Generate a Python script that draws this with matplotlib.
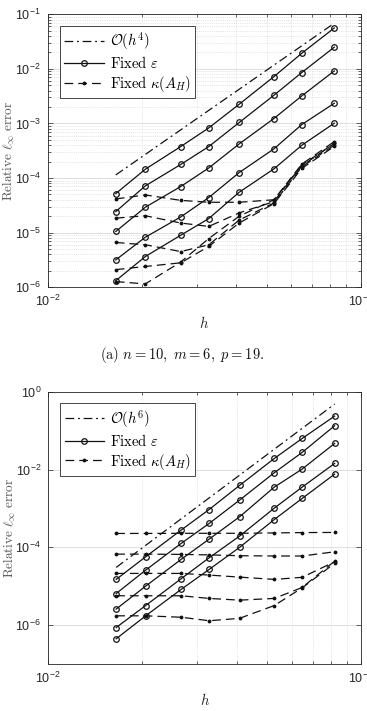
import matplotlib
matplotlib.use("Agg")
import matplotlib.pyplot as plt
from matplotlib.ticker import LogLocator, NullFormatter, NullLocator, LogFormatterMathtext

plt.rcParams['font.family'] = ['Liberation Sans', 'DejaVu Sans']
plt.rcParams['mathtext.fontset'] = 'cm'

# grid spacing h (same for both panels)
h = [0.0165, 0.0205, 0.0266, 0.0327, 0.0409, 0.0528, 0.0648, 0.0823]

# panel (a): n=10, m=6, p=19
eps_a = [
    [5.19e-5, 1.45e-4, 3.77e-4, 8.28e-4, 2.25e-3, 7.2e-3, 1.93e-2, 5.6e-2],
    [2.43e-5, 7.18e-5, 1.77e-4, 3.77e-4, 1.04e-3, 3.28e-3, 8.55e-3, 2.49e-2],
    [1.05e-5, 2.92e-5, 6.98e-5, 1.53e-4, 4.22e-4, 1.23e-3, 3.19e-3, 9.16e-3],
    [3.17e-6, 8.24e-6, 1.94e-5, 4.39e-5, 1.26e-4, 3.42e-4, 9.53e-4, 2.34e-3],
    [1.32e-6, 3.65e-6, 8.96e-6, 1.81e-5, 5.5e-5, 1.47e-4, 3.98e-4, 1.01e-3],
]
kap_a = [
    [4.14e-5, 4.9e-5, 3.9e-5, 3.6e-5, 3.6e-5, 4.0e-5, 1.8e-4, 4.65e-4],
    [1.84e-5, 2.04e-5, 1.5e-5, 1.3e-5, 2.3e-5, 3.7e-5, 1.73e-4, 4.3e-4],
    [6.6e-6, 6.0e-6, 4.5e-6, 6.0e-6, 1.7e-5, 3.5e-5, 1.6e-4, 4.0e-4],
    [2.1e-6, 2.4e-6, 2.8e-6, 5.6e-6, 1.5e-5, 3.4e-5, 1.5e-4, 3.8e-4],
    [1.27e-6, 1.15e-6, 2.9e-6, 7.8e-6, 2.0e-5, 4.0e-5, 1.67e-4, 4.3e-4],
]
ref_h = [0.0165, 0.0823]
ref_a = [1.14e-4, 6.84e-2]

# panel (b)
eps_b = [
    [1.5e-5, 5.73e-5, 2.78e-4, 9.4e-4, 3.91e-3, 1.93e-2, 6.3e-2, 0.237],
    [6.5e-6, 2.6e-5, 1.26e-4, 4.12e-4, 1.64e-3, 8.3e-3, 2.76e-2, 0.134],
    [2.59e-6, 1.01e-5, 4.9e-5, 1.63e-4, 6.1e-4, 3.54e-3, 1.03e-2, 4.7e-2],
    [8.7e-7, 3.2e-6, 1.56e-5, 5.4e-5, 1.95e-4, 1.02e-3, 3.54e-3, 1.44e-2],
    [4.47e-7, 1.74e-6, 8.3e-6, 2.71e-5, 1.0e-4, 5.2e-4, 1.81e-3, 7.64e-3],
]
kap_b = [
    [2.28e-4, 2.28e-4, 2.3e-4, 2.3e-4, 2.3e-4, 2.35e-4, 2.4e-4, 2.42e-4],
    [6.7e-5, 6.7e-5, 6.6e-5, 6.4e-5, 6.1e-5, 6.0e-5, 6.0e-5, 7.7e-5],
    [2.14e-5, 2.14e-5, 2.14e-5, 1.94e-5, 1.72e-5, 1.5e-5, 1.7e-5, 4.27e-5],
    [5.7e-6, 5.7e-6, 5.7e-6, 4.87e-6, 4.4e-6, 4.87e-6, 9.3e-6, 4.43e-5],
    [1.74e-6, 1.74e-6, 1.6e-6, 1.3e-6, 1.5e-6, 3.2e-6, 9.1e-6, 3.9e-5],
]
ref_b = [3.05e-5, 0.482]

INK = '#111111'
AXC = '#262626'


def panel(ax, eps, kap, ref, ref_label, ylim, yticks, minor_y):
    ax.plot(ref_h, ref, color=INK, lw=0.9, dashes=(7, 3, 1.5, 3), label=ref_label)
    for i, row in enumerate(eps):
        ax.plot(h, row, color=INK, lw=0.9, marker='o', ms=4, mfc='none', mew=0.9,
                label=r'$\mathrm{Fixed}\ \varepsilon$' if i == 0 else None)
    for i, row in enumerate(kap):
        ax.plot(h, row, color=INK, lw=0.9, dashes=(7, 4), marker='.', ms=3.5,
                label=r'$\mathrm{Fixed}\ \kappa(A_H)$' if i == 0 else None)

    ax.set_xscale('log')
    ax.set_yscale('log')
    ax.set_xlim(1e-2, 1e-1)
    ax.set_ylim(*ylim)
    ax.set_xticks([1e-2, 1e-1])
    ax.set_yticks(yticks)
    ax.xaxis.set_major_formatter(LogFormatterMathtext())
    ax.yaxis.set_major_formatter(LogFormatterMathtext())
    ax.xaxis.set_minor_locator(LogLocator(base=10, subs=range(2, 10)))
    ax.xaxis.set_minor_formatter(NullFormatter())
    if minor_y:
        ax.yaxis.set_minor_locator(LogLocator(base=10, subs=range(2, 10), numticks=20))
        ax.yaxis.set_minor_formatter(NullFormatter())
    else:
        ax.yaxis.set_minor_locator(NullLocator())

    ax.grid(True, which='major', color='#d9d9d9', lw=0.6, ls='-')
    ax.grid(True, which='minor', color='#cfcfcf', lw=0.5, ls=':')
    ax.set_axisbelow(True)
    ax.tick_params(which='both', direction='in', top=True, right=True, colors=AXC,
                   labelsize=9, width=0.5)
    ax.tick_params(which='major', length=3.5, pad=5)
    ax.tick_params(which='minor', length=2)
    for s in ax.spines.values():
        s.set_color(AXC)
        s.set_linewidth(0.6)

    ax.set_xlabel(r'$h$', fontsize=10.5, color=AXC, labelpad=4)
    ax.set_ylabel(r'$\mathrm{Relative}\ \ell_\infty\ \mathrm{error}$', fontsize=9.5, color='#555555')
    ax.yaxis.set_label_coords(-0.097, 0.5)
    leg = ax.legend(loc='upper left', bbox_to_anchor=(0.039, 0.957), borderaxespad=0,
                    fontsize=10.5, handlelength=2.7, labelspacing=0.2, handletextpad=0.4,
                    borderpad=0.3, fancybox=False, framealpha=1)
    leg.get_frame().set_edgecolor(AXC)
    leg.get_frame().set_linewidth(0.6)


fig = plt.figure(figsize=(3.67, 7.11), dpi=100)
ax1 = fig.add_axes([0.130, 0.596, 0.853, 0.384])
ax2 = fig.add_axes([0.131, 0.066, 0.853, 0.383])

panel(ax1, eps_a, kap_a, ref_a, r'$\mathcal{O}(h^4)$', (1e-6, 1e-1),
      [1e-6, 1e-5, 1e-4, 1e-3, 1e-2, 1e-1], True)
panel(ax2, eps_b, kap_b, ref_b, r'$\mathcal{O}(h^6)$', (1e-7, 1e0),
      [1e-6, 1e-4, 1e-2, 1e0], False)

fig.text(0.497, 0.5007, r'$\mathrm{(a)}\ n=10,\ m=6,\ p=19.$', ha='center', va='center',
         fontsize=10.5, color=INK)

fig.savefig('out.png', dpi=100)
